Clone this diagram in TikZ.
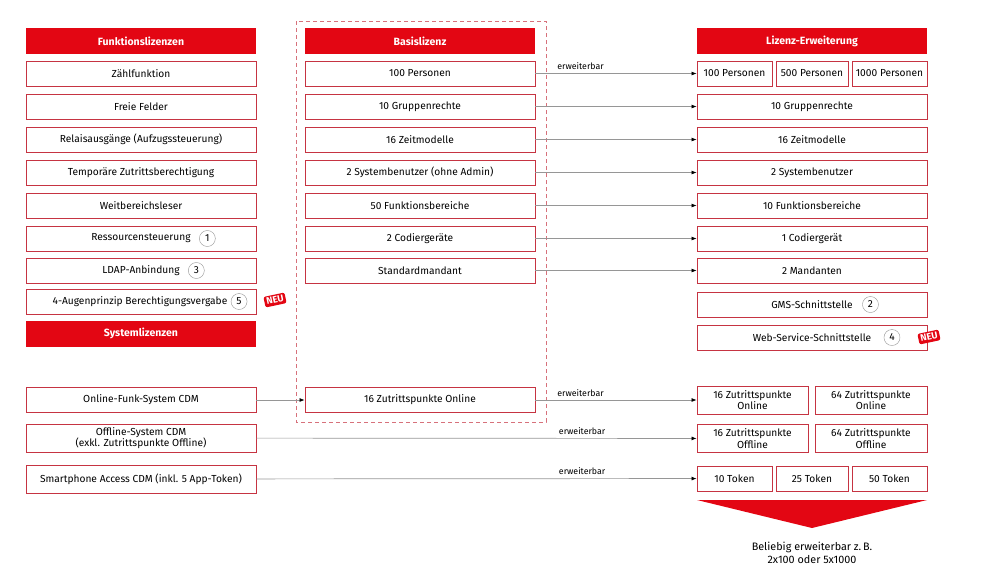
\documentclass[tikz,border=0pt]{standalone}
\usepackage{fontspec}
\setmainfont{Fira Sans}
\usetikzlibrary{positioning,arrows.meta}

\definecolor{lizrot}{RGB}{227,6,19}
\definecolor{randrot}{RGB}{198,52,66}
\definecolor{linie}{RGB}{150,150,150}

\begin{document}
\begin{tikzpicture}[%
			x=1pt, y=-1pt,
			every node/.style={align=center, font=\fontsize{10.2}{11.5}\selectfont},
			kopf/.style={fill=lizrot, text=white, minimum width=230pt, minimum height=26pt, inner sep=0pt, font=\fontsize{10.5}{11.5}\selectfont\bfseries},
			feld/.style={draw=randrot, line width=0.9pt, fill=white, minimum width=230pt, minimum height=25pt, inner sep=0pt},
			nummer/.style={circle, draw=linie, fill=white, minimum size=16pt, inner sep=0pt},
			neu/.style={fill=lizrot, text=white, rounded corners=2pt, inner sep=2pt, rotate=12, font=\fontsize{9.5}{10}\selectfont\bfseries},
			pfeil/.style={draw=linie, line width=0.7pt, -{Latex[length=5pt, width=4pt, black]}},
			erw/.style={font=\fontsize{8.8}{9}\selectfont, above=0pt}
			]
			\useasboundingbox (0,0) rectangle (990,582);

			% Funktionslizenzen
			\node[kopf] (f0) at (141,41) {Funktionslizenzen};
			\node[feld] (f1) at (141,73.5) {Zählfunktion};
			\node[feld] (f2) at (141,106.5) {Freie Felder};
			\node[feld] (f3) at (141,139.5) {Relaisausgänge (Aufzugssteuerung)};
			\node[feld] (f4) at (141,172.5) {Temporäre Zutrittsberechtigung};
			\node[feld] (f5) at (141,205.5) {Weitbereichsleser};
			\node[feld] (f6) at (141,238.5) {};
			\node (f6txt) at (f6) {Ressourcensteuerung};
			\node[nummer, right=5pt of f6txt] (f6num) {1};
			\node[feld] (f7) at (141,270.5) {};
			\node (f7txt) at (f7) {LDAP-Anbindung};
			\node[nummer, right=5pt of f7txt] (f7num) {3};
			\node[feld] (f8) at (141,301.5) {};
			\node (f8txt) at (140,301.5) {4-Augenprinzip Berechtigungsvergabe};
			\node[nummer, right=0pt of f8txt] (f8num) {5};
			\node[neu] (f8neu) at (275,300) {NEU};

			% Systemlizenzen
			\node[kopf] (s0) at (141,333.5) {Systemlizenzen};
			\node[feld] (s1) at (141,400) {Online-Funk-System CDM};
			\node[feld, minimum height=28pt] (s2) at (141,438) {Offline-System CDM\\(exkl. Zutrittspunkte Offline)};
			\node[feld, minimum height=28pt] (s3) at (141,479) {Smartphone Access CDM (inkl. 5 App-Token)};

			% Basislizenz
			\draw[randrot!70, line width=0.9pt, dash pattern=on 4pt off 3pt] (296,21) rectangle (546,422);
			\node[kopf] (b0) at (420,41) {Basislizenz};
			\node[feld] (b1) at (420,73.5) {100 Personen};
			\node[feld] (b2) at (420,106.5) {10 Gruppenrechte};
			\node[feld] (b3) at (420,139.5) {16 Zeitmodelle};
			\node[feld] (b4) at (420,172.5) {2 Systembenutzer (ohne Admin)};
			\node[feld] (b5) at (420,205.5) {50 Funktionsbereiche};
			\node[feld] (b6) at (420,238.5) {2 Codiergeräte};
			\node[feld] (b7) at (420,270.5) {Standardmandant};
			\node[feld] (b8) at (420,400) {16 Zutrittspunkte Online};

			% Lizenz-Erweiterung
			\node[kopf] (e0) at (812,41) {Lizenz-Erweiterung};
			\node[feld, minimum width=75pt] (e1sub1) at (734.5,73.5) {100 Personen};
			\node[feld, minimum width=72pt] (e1sub2) at (812,73.5) {500 Personen};
			\node[feld, minimum width=75pt] (e1sub3) at (889.5,73.5) {1000 Personen};
			\node[feld] (e2) at (812,106.5) {10 Gruppenrechte};
			\node[feld] (e3) at (812,139.5) {16 Zeitmodelle};
			\node[feld] (e4) at (812,172.5) {2 Systembenutzer};
			\node[feld] (e5) at (812,205.5) {10 Funktionsbereiche};
			\node[feld] (e6) at (812,238.5) {1 Codiergerät};
			\node[feld] (e7) at (812,270.5) {2 Mandanten};
			\node[feld] (e8) at (812,304.5) {};
			\node (e8txt) at (e8) {GMS-Schnittstelle};
			\node[nummer, right=6pt of e8txt] (e8num) {2};
			\node[feld] (e9) at (812,337.5) {};
			\node (e9txt) at (e9) {Web-Service-Schnittstelle};
			\node[nummer, right=9pt of e9txt] (e9num) {4};
			\node[neu] (e9neu) at (929,337) {NEU};
			\node[feld, minimum width=111pt, minimum height=28pt] (e10sub1) at (752.5,400) {16 Zutrittspunkte\\Online};
			\node[feld, minimum width=112pt, minimum height=28pt] (e10sub2) at (871,400) {64 Zutrittspunkte\\Online};
			\node[feld, minimum width=111pt, minimum height=28pt] (e11sub1) at (752.5,438.5) {16 Zutrittspunkte\\Offline};
			\node[feld, minimum width=112pt, minimum height=28pt] (e11sub2) at (871,438.5) {64 Zutrittspunkte\\Offline};
			\node[feld, minimum width=75pt] (e12sub1) at (734.5,478.5) {10 Token};
			\node[feld, minimum width=72pt] (e12sub2) at (812,478.5) {25 Token};
			\node[feld, minimum width=75pt] (e12sub3) at (889.5,478.5) {50 Token};

			\fill[lizrot] (697,500) -- (927,500) -- (812,528) -- cycle;
			\node[font=\fontsize{10.8}{13}\selectfont] (hinweis) at (812,553) {Beliebig erweiterbar z.\,B.\\2x100 oder 5x1000};

			% Pfeile
			\draw[pfeil] (b1) -- node[erw, pos=0.28] (l1) {erweiterbar} (e1sub1);
			\draw[pfeil] (b2) -- (e2);
			\draw[pfeil] (b3) -- (e3);
			\draw[pfeil] (b4) -- (e4);
			\draw[pfeil] (b5) -- (e5);
			\draw[pfeil] (b6) -- (e6);
			\draw[pfeil] (b7) -- (e7);
			\draw[pfeil] (s1) -- (b8);
			\draw[pfeil] (b8) -- node[erw, pos=0.28] (l2) {erweiterbar} (e10sub1);
			\draw[pfeil] (s2) -- node[erw, pos=0.74] (l3) {erweiterbar} (e11sub1);
			\draw[pfeil] (s3) -- node[erw, pos=0.74] (l4) {erweiterbar} (e12sub1);
		\end{tikzpicture}
\end{document}
